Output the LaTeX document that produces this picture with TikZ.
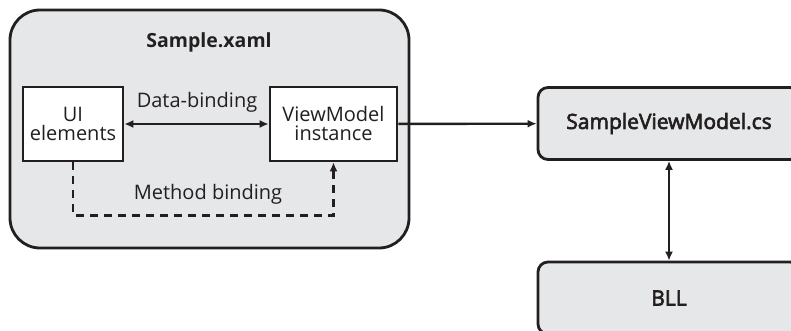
\documentclass[tikz,border=0pt]{standalone}
\usepackage{fontspec}
\setmainfont{Open Sans}
\newfontfamily\semibold[FakeBold=3]{Open Sans}
\usetikzlibrary{arrows.meta}
\definecolor{panelgray}{HTML}{E6E7E8}
\definecolor{inkdark}{HTML}{231F20}

\begin{document}
\begin{tikzpicture}[x=1pt,y=-1pt,
  txt/.style={font=\fontsize{20}{23}\selectfont,text=inkdark},
  bold/.style={font=\fontsize{19.5}{22}\selectfont\bfseries},
  semi/.style={font=\fontsize{21}{24}\selectfont\semibold},
  panel/.style={draw=inkdark,line width=2.8pt,fill=panelgray,rounded corners=30pt},
  elem/.style={txt,draw=inkdark,line width=2.6pt,fill=white,align=center,minimum height=74pt},
  module/.style={txt,draw=inkdark,line width=2.8pt,fill=panelgray,rounded corners=10pt,minimum width=262pt,minimum height=72pt},
  link/.style={draw=inkdark,line width=2.4pt,-{Latex[length=9pt,width=8pt]}},
  dlink/.style={link,{Latex[length=9pt,width=8pt]}-{Latex[length=9pt,width=8pt]}}]
\useasboundingbox (0,0) rectangle (791,331);
% XAML page
\node[panel,minimum width=399pt,minimum height=238pt] (xaml) at (209.5,129) {};
\node[txt,bold] (title) at (209,42) {Sample.xaml};
\node[elem,minimum width=100pt] (ui) at (73,124) {UI\\[-4pt]elements};
\node[elem,minimum width=127pt] (vm) at (333.5,124) {ViewModel\\[-4pt]instance};
\draw[dlink] (ui) -- (vm);
\node[txt] (databind) at (197,102) {Data-binding};
\draw[link,dashed,dash pattern=on 8pt off 6pt] (ui.south) -- ++(0,53) coordinate (corner) -| (vm.south);
\node[txt] (methbind) at (208,194) {Method binding};
% Code files
\node[module,semi] (svm) at (669,123.5) {SampleViewModel.cs};
\node[module,semi] (bll) at (669,298) {BLL};
\draw[link] (vm) -- (svm);
\draw[dlink] (svm) -- (bll);
\end{tikzpicture}
\end{document}
